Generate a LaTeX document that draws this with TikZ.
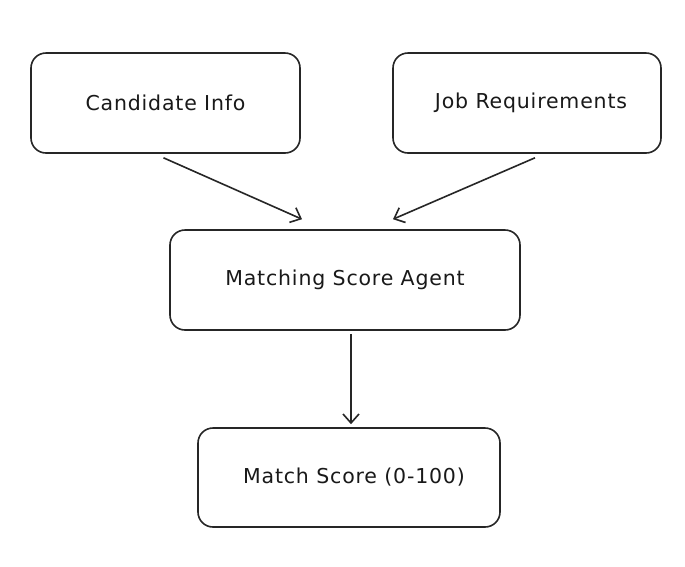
\documentclass[tikz,border=0pt]{standalone}
\usepackage{fontspec}
\setmainfont[LetterSpace=4]{DejaVu Sans}
\usetikzlibrary{arrows.meta}
\begin{document}
\begin{tikzpicture}[x=1pt,y=-1pt,
  box/.style={draw=black!85, line width=1.6pt, rounded corners=15pt, fill=white,
    inner sep=0pt, font=\fontsize{20.5}{24}\selectfont, text=black!90},
  conn/.style={draw=black!85, line width=1.6pt, -{Straight Barb[length=9pt,width=16pt,line width=1.6pt]}}]
\fill[white] (0,0) rectangle (685,566);
\useasboundingbox (0,0) rectangle (685,566);
\node[box, minimum width=269pt, minimum height=100pt] (ci) at (165.5,103) {Candidate Info\hspace{6pt}};
\node[box, minimum width=268pt, minimum height=100pt] (jr) at (527,103) {\hspace{8pt}Job Requirements};
\node[box, minimum width=350pt, minimum height=100pt] (msa) at (345,280) {Matching Score Agent};
\node[box, minimum width=302pt, minimum height=99pt] (ms) at (349,477.5) {\hspace{10pt}Match Score (0-100)};
\draw[conn] ([xshift=-2pt,yshift=-4pt]ci.south) -- ([xshift=-43pt,yshift=10pt]msa.north);
\draw[conn] ([xshift=8pt,yshift=-4pt]jr.south) -- ([xshift=48pt,yshift=10pt]msa.north);
\draw[conn] ([xshift=6pt,yshift=-3pt]msa.south) -- ([xshift=2pt,yshift=3pt]ms.north);
\end{tikzpicture}
\end{document}
